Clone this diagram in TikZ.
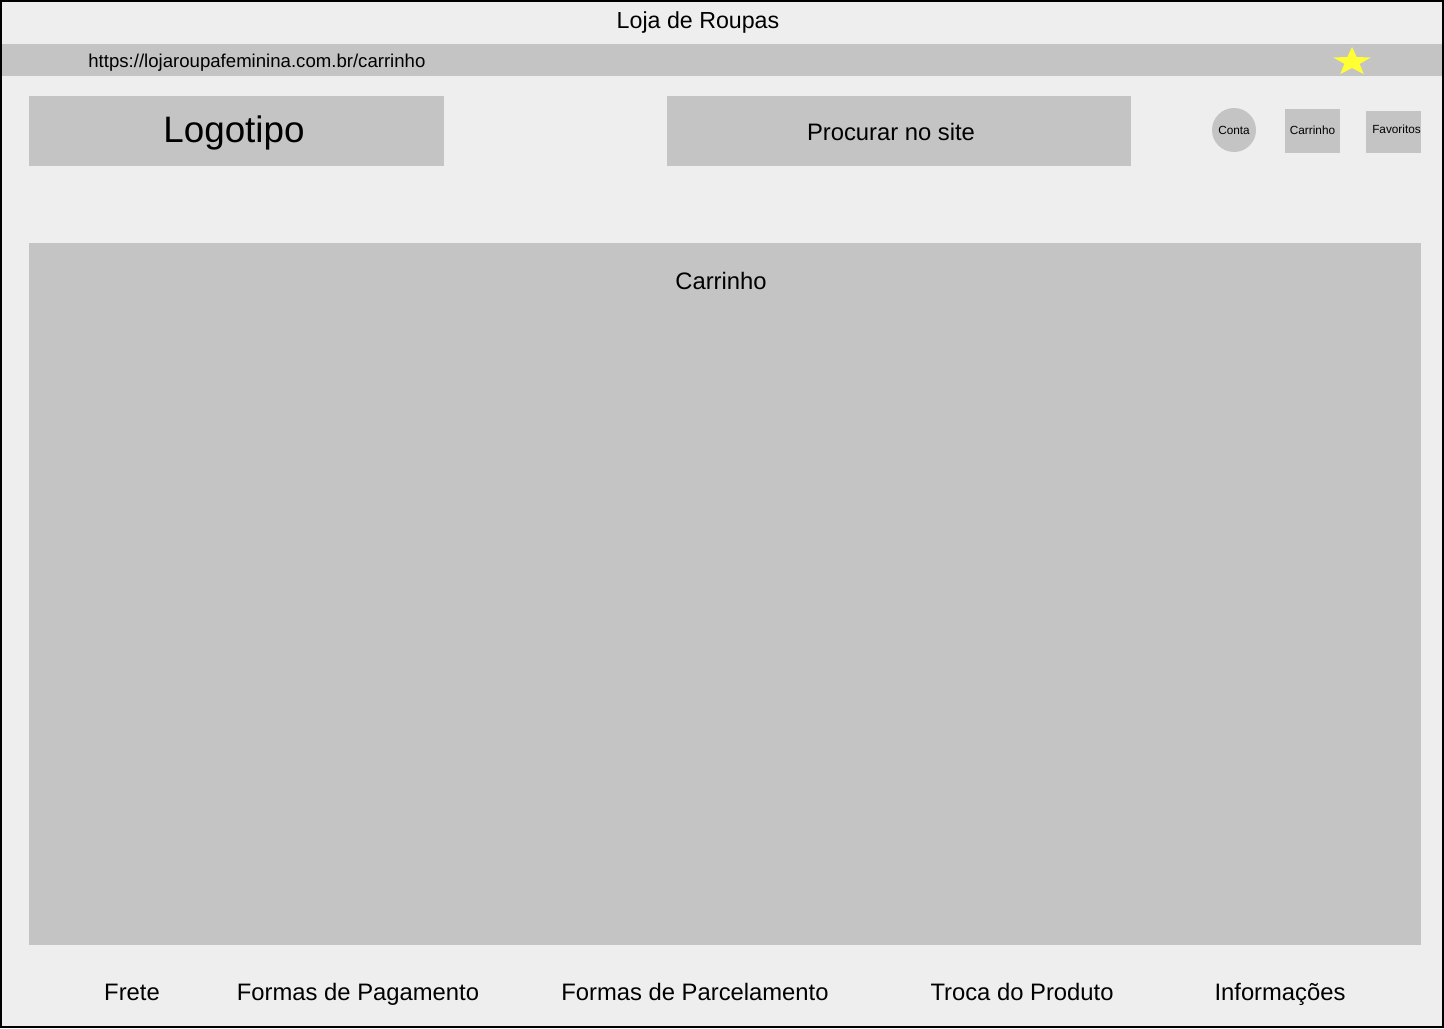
\documentclass[tikz,border=0pt]{standalone}
\usepackage{fontspec}
\setmainfont{Liberation Sans}
\definecolor{fundo}{HTML}{EEEEEE}
\definecolor{cinza}{HTML}{C4C4C4}
\definecolor{estrela}{HTML}{FFFF33}

\begin{document}
\begin{tikzpicture}[x=0.5pt,y=-0.5pt,
    txt/.style={inner sep=0pt, text=black, text depth=0pt},
    menu/.style={txt, font=\fontsize{11.9}{14}\selectfont, text height=8.5pt},
    icone/.style={txt, font=\fontsize{5.9}{7}\selectfont, text height=4.2pt}]
    \useasboundingbox (0,0) rectangle (1444,1028);
    \fill[fundo] (0,0) rectangle (1444,1028);

    % barra do navegador
    \node[txt, font=\fontsize{11.6}{14}\selectfont, text height=8.3pt] (titulo) at (698,20) {Loja de Roupas};
    \fill[cinza] (2,44) rectangle (1442,76);
    \node[txt, anchor=west, font=\fontsize{9.3}{11}\selectfont, text height=6.7pt] (url) at (88,61) {https://lojaroupafeminina.com.br/carrinho};
    \begin{scope}[shift={(1352,62)},yscale=0.75]
        \fill[estrela] (-90:20) \foreach \k in {1,...,9}{ -- ({-90+36*\k}:{20-12*mod(\k,2)}) } -- cycle;
    \end{scope}

    % cabecalho
    \fill[cinza] (29,96) rectangle (444,166);
    \node[txt, font=\fontsize{18.4}{22}\selectfont, text height=13.2pt] (logo) at (234,129) {Logotipo};
    \fill[cinza] (667,96) rectangle (1131,166);
    \node[menu] (busca) at (891,132) {Procurar no site};
    \fill[cinza] (1234,130) circle (22);
    \node[icone] (conta) at (1234,130.5) {Conta};
    \fill[cinza] (1285,109) rectangle (1340,153);
    \node[icone] (carr) at (1312.5,130) {Carrinho};
    \fill[cinza] (1366,111) rectangle (1421,153);
    \node[icone] (fav) at (1396.5,129) {Favoritos};

    % conteudo
    \fill[cinza] (29,243) rectangle (1421,945);
    \node[menu] (carrinho) at (721,281) {Carrinho};

    % rodape
    \node[menu] (frete) at (132,992) {Frete};
    \node[menu] (pagto) at (358,992) {Formas de Pagamento};
    \node[menu] (parc) at (695,992) {Formas de Parcelamento};
    \node[menu] (troca) at (1022,992) {Troca do Produto};
    \node[menu] (info) at (1280,992) {Informações};

    \draw[line width=1pt] (1,1) rectangle (1443,1027);
\end{tikzpicture}
\end{document}
